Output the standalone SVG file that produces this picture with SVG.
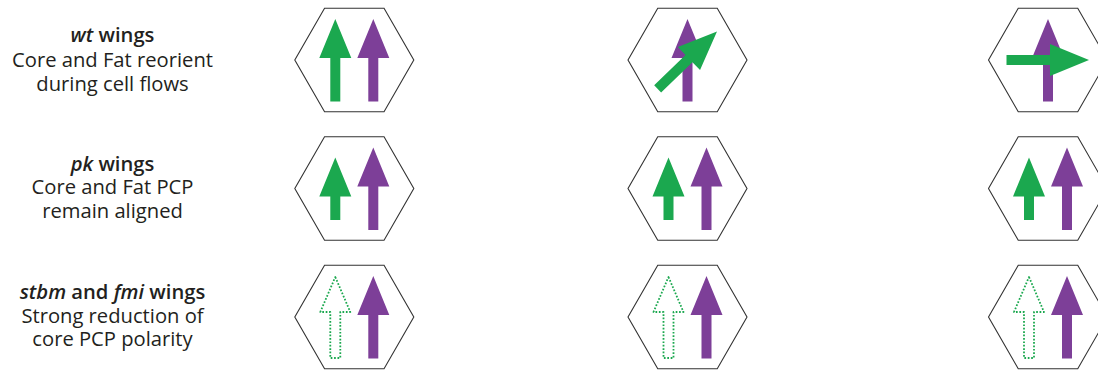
<svg xmlns="http://www.w3.org/2000/svg" xmlns:xlink="http://www.w3.org/1999/xlink" width="1098" height="370" viewBox="0 0 1098 370">
  <style>
    .hex { fill: #ffffff; stroke: #333333; stroke-width: 1.1; }
    .green { fill: #1ba84f; }
    .purple { fill: #7d3f98; }
    .dotted { fill: none; stroke: #1ba84f; stroke-width: 1.8; stroke-dasharray: 1.7 1.7; stroke-linejoin: round; }
    .lbl { font-family: "Open Sans", "Liberation Sans", sans-serif; font-size: 20.2px; fill: #231f20; text-anchor: middle; }
    .b { font-weight: 600; }
    .i { font-style: italic; }
  </style>
  <defs>
    <polygon id="hexShape" class="hex" points="-59.5,0 -29.75,-51.7 29.75,-51.7 59.5,0 29.75,51.7 -29.75,51.7"/>
    <path id="longArrow" d="M0,-41 L16,-2 L5,-2 L5,41.5 L-5,41.5 L-5,-2 L-16,-2 Z"/>
    <path id="shortArrow" d="M0,-31 L16,8 L5,8 L5,31.5 L-5,31.5 L-5,8 L-16,8 Z"/>
    <path id="dotArrow" d="M0,-40 L15,-5 L5,-5 L5,41 L-5,41 L-5,-5 L-15,-5 Z"/>
  </defs>

  <g id="label-wt">
    <text class="lbl"><tspan x="112.5" y="42"><tspan class="b i">wt</tspan><tspan class="b"> wings</tspan></tspan><tspan x="112.5" y="66.5">Core and Fat reorient</tspan><tspan x="112.5" y="91">during cell flows</tspan></text>
  </g>
  <g id="label-pk">
    <text class="lbl"><tspan x="112.5" y="170.5"><tspan class="b i">pk</tspan><tspan class="b"> wings</tspan></tspan><tspan x="112.5" y="194">Core and Fat PCP</tspan><tspan x="112.5" y="217.5">remain aligned</tspan></text>
  </g>
  <g id="label-stbm">
    <text class="lbl"><tspan x="112.5" y="299"><tspan class="b i">stbm</tspan><tspan class="b"> and </tspan><tspan class="b i">fmi</tspan><tspan class="b"> wings</tspan></tspan><tspan x="112.5" y="322.5">Strong reduction of</tspan><tspan x="112.5" y="346">core PCP polarity</tspan></text>
  </g>

  <!-- Row 1: wt -->
  <g id="cell-wt-1" transform="translate(354.3,60)">
    <use xlink:href="#hexShape"/>
    <use xlink:href="#longArrow" class="green" x="-19"/>
    <use xlink:href="#longArrow" class="purple" x="19"/>
  </g>
  <g id="cell-wt-2" transform="translate(687.5,60)">
    <use xlink:href="#hexShape"/>
    <use xlink:href="#longArrow" class="purple"/>
    <use xlink:href="#longArrow" class="green" transform="rotate(46)"/>
  </g>
  <g id="cell-wt-3" transform="translate(1048,60)">
    <use xlink:href="#hexShape"/>
    <use xlink:href="#longArrow" class="purple"/>
    <use xlink:href="#longArrow" class="green" transform="rotate(90)"/>
  </g>

  <!-- Row 2: pk -->
  <g id="cell-pk-1" transform="translate(354.3,188.5)">
    <use xlink:href="#hexShape"/>
    <use xlink:href="#shortArrow" class="green" x="-19"/>
    <use xlink:href="#longArrow" class="purple" x="19"/>
  </g>
  <g id="cell-pk-2" transform="translate(687.5,188.5)">
    <use xlink:href="#hexShape"/>
    <use xlink:href="#shortArrow" class="green" x="-19"/>
    <use xlink:href="#longArrow" class="purple" x="19"/>
  </g>
  <g id="cell-pk-3" transform="translate(1048,188.5)">
    <use xlink:href="#hexShape"/>
    <use xlink:href="#shortArrow" class="green" x="-19"/>
    <use xlink:href="#longArrow" class="purple" x="19"/>
  </g>

  <!-- Row 3: stbm / fmi -->
  <g id="cell-stbm-1" transform="translate(354.3,317)">
    <use xlink:href="#hexShape"/>
    <use xlink:href="#dotArrow" class="dotted" x="-19"/>
    <use xlink:href="#longArrow" class="purple" x="19"/>
  </g>
  <g id="cell-stbm-2" transform="translate(687.5,317)">
    <use xlink:href="#hexShape"/>
    <use xlink:href="#dotArrow" class="dotted" x="-19"/>
    <use xlink:href="#longArrow" class="purple" x="19"/>
  </g>
  <g id="cell-stbm-3" transform="translate(1048,317)">
    <use xlink:href="#hexShape"/>
    <use xlink:href="#dotArrow" class="dotted" x="-19"/>
    <use xlink:href="#longArrow" class="purple" x="19"/>
  </g>
</svg>
